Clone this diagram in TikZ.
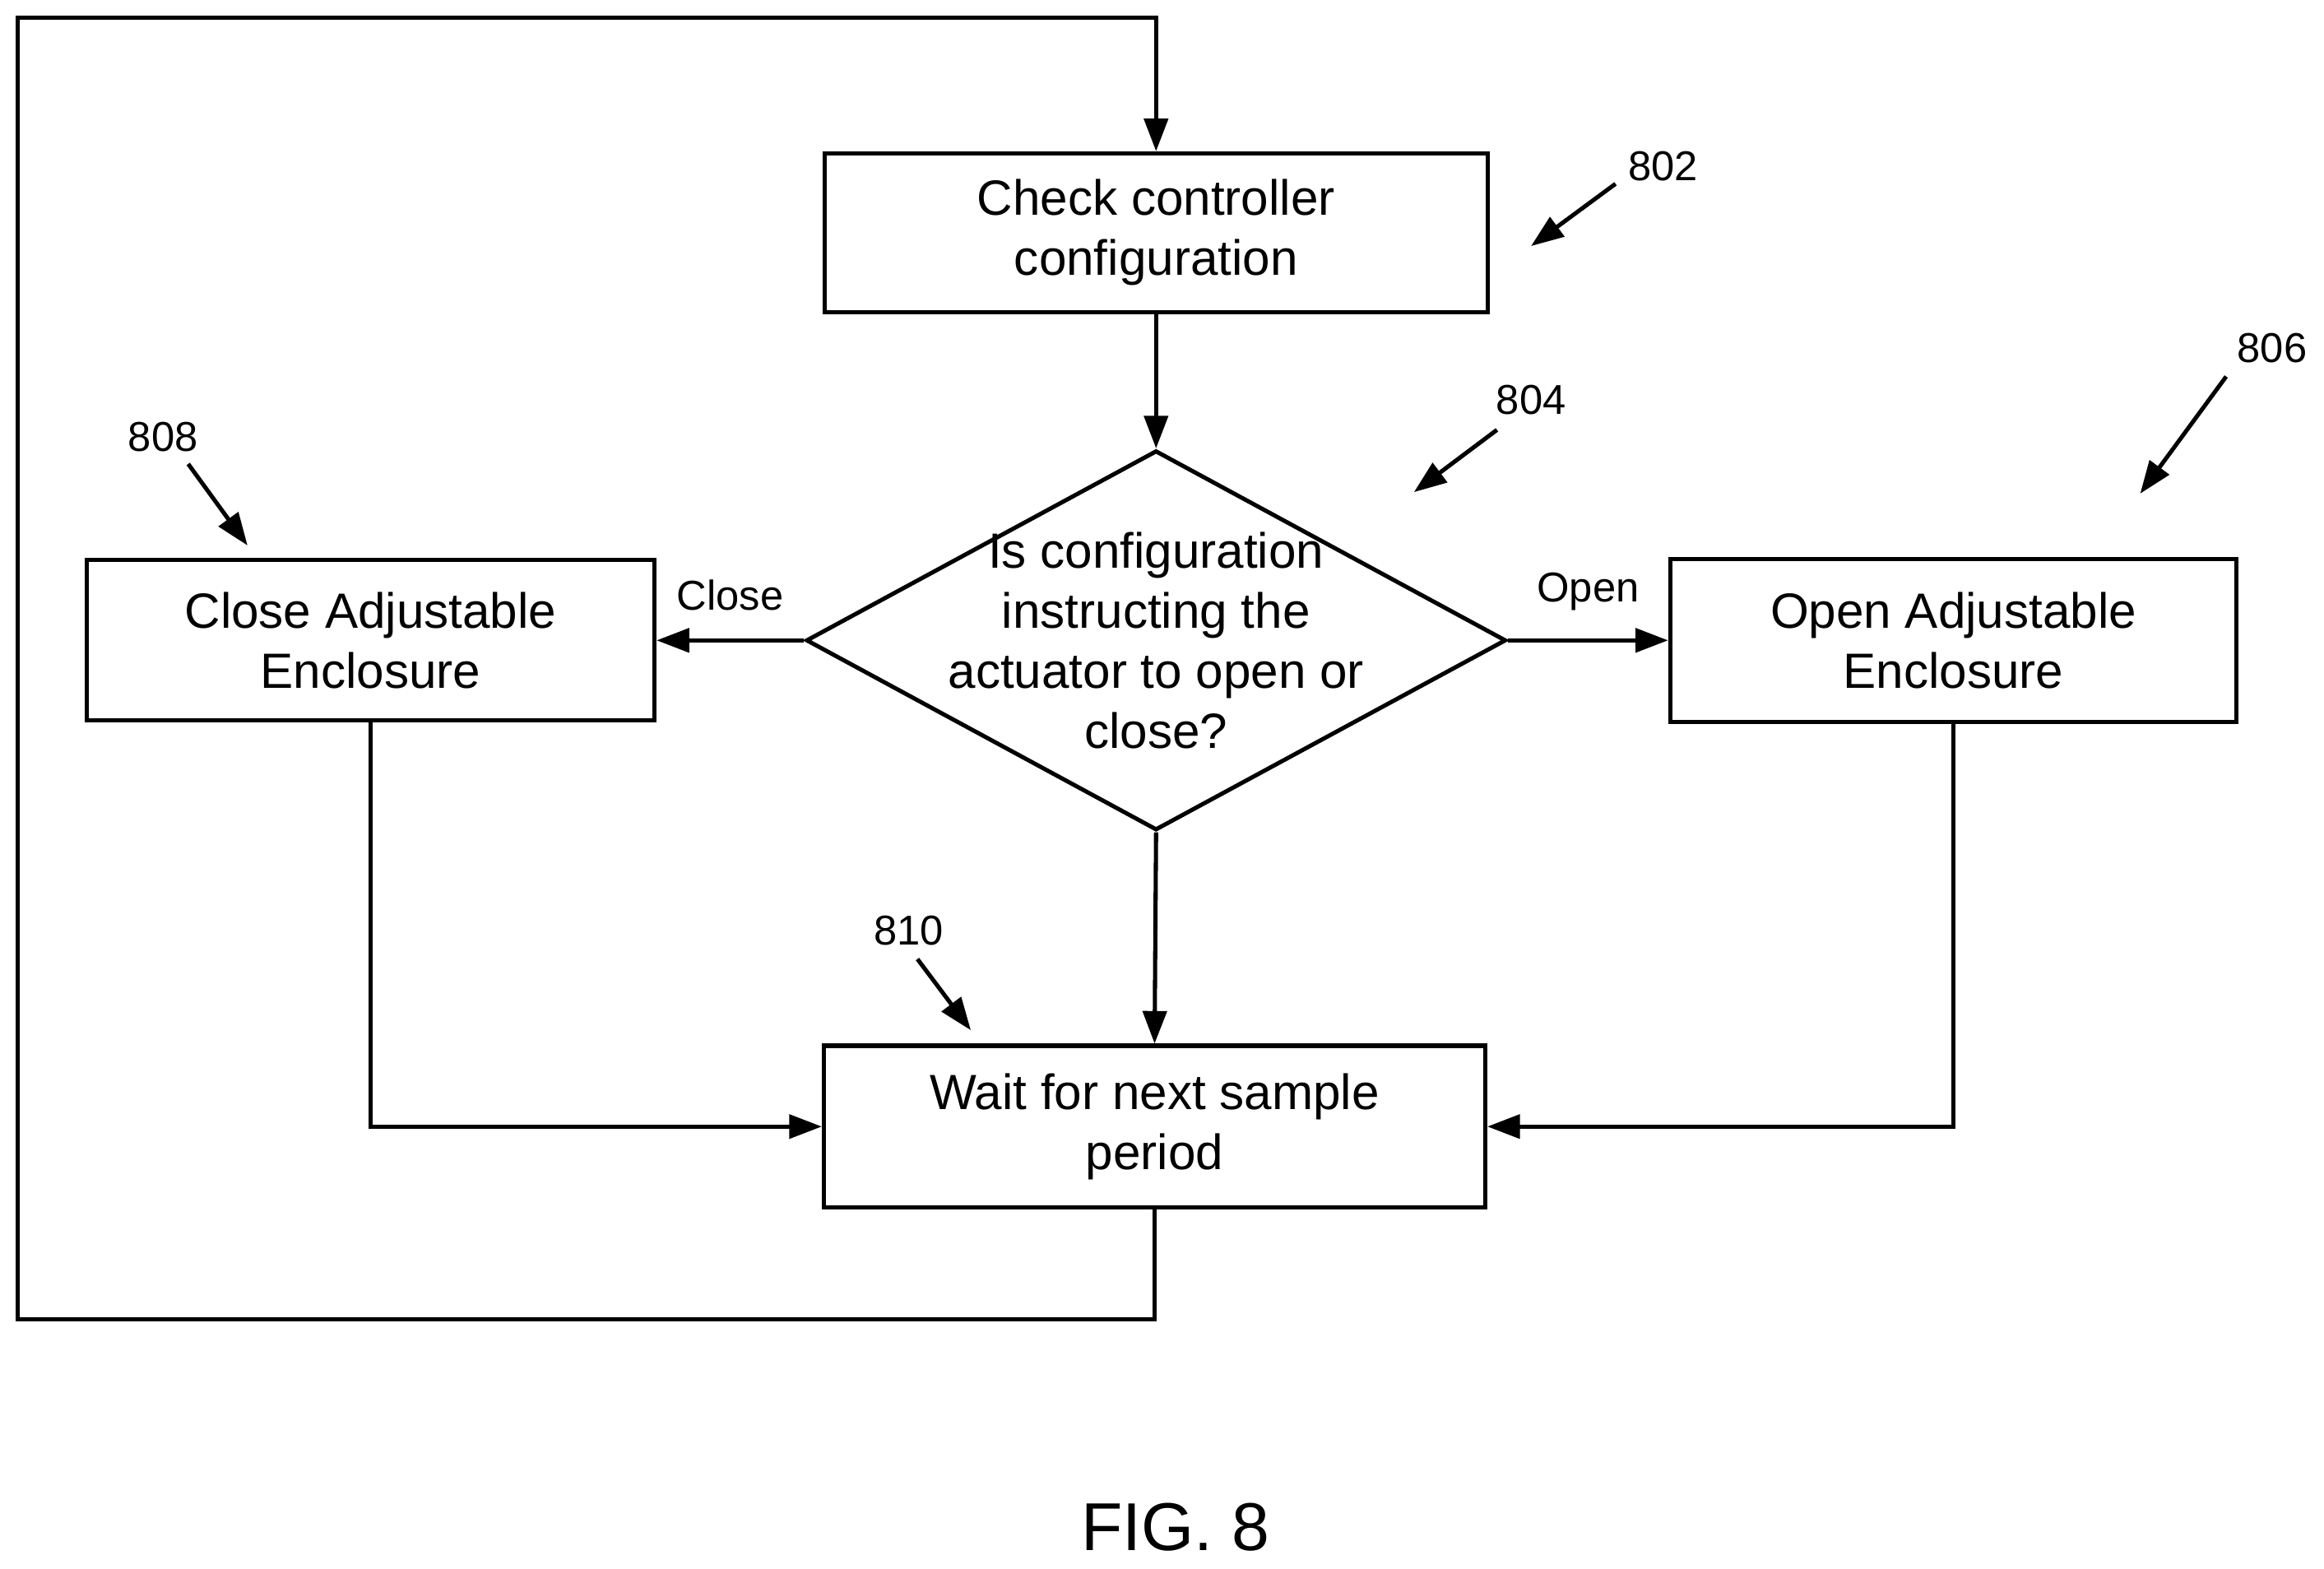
\documentclass[tikz,border=0pt]{standalone}
\usepackage{fontspec}
\setmainfont{Liberation Sans}
\usetikzlibrary{shapes.geometric,arrows.meta}
\tikzset{
  procbox/.style={draw, thick, minimum width=4.47cm, minimum height=1.07cm, align=center, font=\fontsize{9.5}{11.5}\selectfont},
  flow/.style={thick, -{Triangle[length=0.22cm,width=0.16cm]}},
  refnum/.style={font=\fontsize{8}{9}\selectfont},
  lbl/.style={font=\fontsize{8}{9}\selectfont}
}
\begin{document}
\begin{tikzpicture}[x=0.01cm,y=-0.01cm]
  \useasboundingbox (0,0) rectangle (1568,1058);

  % boxes
  \node[procbox] (check) at (780,157) {Check controller\\configuration};
  \node[draw, thick, diamond, minimum width=4.72cm, minimum height=2.56cm, inner sep=0pt] (decide) at (780,432) {};
  \node[align=center, font=\fontsize{9.5}{11.5}\selectfont] (decidetxt) at (decide.center) {Is configuration\\instructing the\\actuator to open or\\close?};
  \node[procbox, minimum width=3.83cm, minimum height=1.08cm] (close) at (250,432) {Close Adjustable\\Enclosure};
  \node[procbox, minimum width=3.82cm, minimum height=1.10cm] (open) at (1318,432) {Open Adjustable\\Enclosure};
  \node[procbox, minimum width=4.46cm, minimum height=1.09cm] (wait) at (779,760) {Wait for next sample\\period};

  % connectors
  \draw[flow] (check) -- (decide);
  \draw[flow] (decide.west) -- (close.east) node[lbl, midway, above=2pt] {Close};
  \draw[flow] (decide.east) -- (open.west) node[lbl, midway, above=2pt] {Open};
  \draw[flow] (decide.south) -- (wait.north);
  \draw[flow] (close.south) |- (wait.west);
  \draw[flow] (open.south) |- (wait.east);
  \coordinate (loopa) at (12,890);
  \coordinate (loopb) at (12,12);
  \draw[flow] (wait.south) |- (loopa) -- (loopb) -| (check.north);

  % reference numerals
  \node[refnum] (n802) at (1122,112) {802};
  \node[refnum] (n804) at (1033,270) {804};
  \node[refnum] (n806) at (1533,235) {806};
  \node[refnum] (n808) at (110,295) {808};
  \node[refnum] (n810) at (613,628) {810};
  \coordinate (t802) at (1033,166);
  \coordinate (t804) at (954,332);
  \coordinate (t806) at (1444,333);
  \coordinate (t808) at (167,368);
  \coordinate (t810) at (655,695);
  \draw[flow] (1090,124) -- (t802);
  \draw[flow] (1010,290) -- (t804);
  \draw[flow] (1502,254) -- (t806);
  \draw[flow] (127,313) -- (t808);
  \draw[flow] (619,647) -- (t810);

  \node[font=\fontsize{13}{15}\selectfont] (fig) at (793,1030) {FIG. 8};
\end{tikzpicture}
\end{document}
